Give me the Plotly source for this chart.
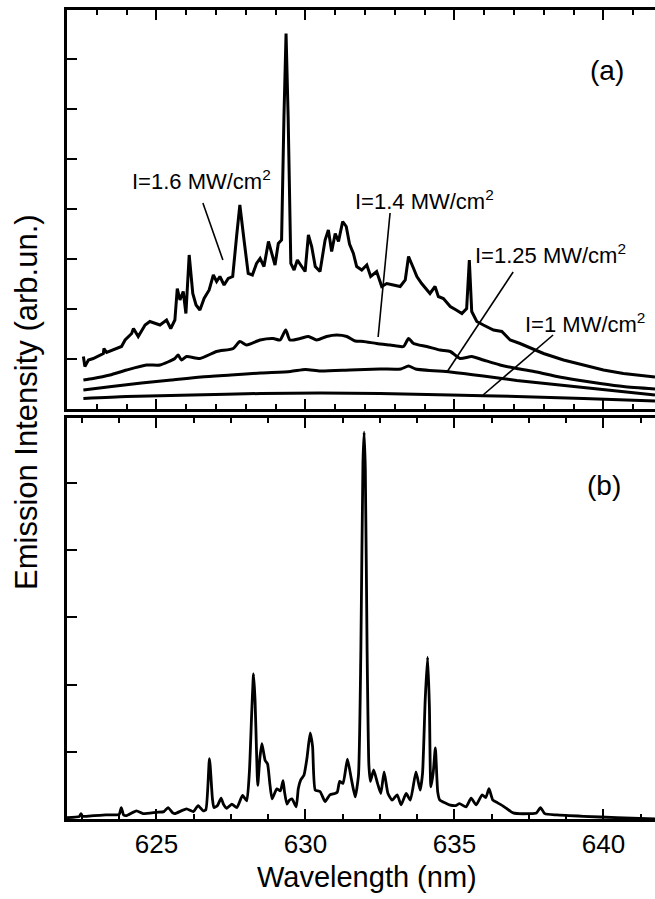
import plotly.graph_objects as go

# ---------------- data ----------------
# Panel (a): emission spectra at four pump intensities
wl_16 = [622.55, 622.60, 622.72, 622.88, 623.22, 623.24, 623.33, 623.83, 623.95, 624.17, 624.23, 624.39,
         624.62, 624.78, 625.12, 625.34, 625.48, 625.62, 625.70, 625.79, 625.90, 625.99, 626.10, 626.22,
         626.33, 626.46, 626.60, 626.77, 626.91, 627.02, 627.13, 627.27, 627.41, 627.56, 627.69, 627.80,
         627.94, 628.08, 628.22, 628.36, 628.48, 628.61, 628.76, 628.87, 628.98, 629.09, 629.20, 629.28,
         629.35, 629.42, 629.51, 629.62, 629.73, 629.84, 629.99, 630.10, 630.21, 630.33, 630.49, 630.66,
         630.77, 630.88, 631.00, 631.11, 631.25, 631.37, 631.48, 631.61, 631.72, 631.89, 632.06, 632.19,
         632.39, 632.56, 632.73, 632.95, 633.18, 633.35, 633.46, 633.63, 633.74, 633.90, 634.05, 634.18,
         634.35, 634.46, 634.63, 634.86, 635.06, 635.25, 635.41, 635.50, 635.58, 635.75, 635.97, 636.31,
         636.59, 636.87, 637.20, 637.60, 637.99, 638.66, 639.33, 640.00, 640.67, 641.73]
int_16 = [1.05, 0.85, 0.98, 1.01, 1.11, 1.21, 1.13, 1.25, 1.38, 1.51, 1.61, 1.45,
          1.68, 1.75, 1.68, 1.78, 1.61, 1.78, 2.41, 2.18, 2.35, 1.91, 3.08, 2.31,
          2.08, 1.98, 2.21, 2.38, 2.68, 2.55, 2.65, 2.48, 2.61, 2.65, 3.45, 4.08,
          3.38, 2.71, 2.68, 2.91, 3.01, 2.85, 3.35, 3.11, 2.88, 3.31, 3.38, 5.85,
          7.51, 5.85, 2.91, 2.78, 2.98, 2.88, 2.75, 3.48, 3.25, 2.85, 2.75, 3.38,
          3.58, 3.15, 3.51, 3.35, 3.75, 3.65, 3.30, 3.11, 2.85, 2.78, 2.88, 2.65,
          2.75, 2.45, 2.51, 2.48, 2.45, 2.58, 3.05, 2.81, 2.65, 2.51, 2.41, 2.31,
          2.45, 2.25, 2.21, 2.05, 1.98, 1.91, 2.01, 2.98, 1.95, 1.75, 1.68, 1.58,
          1.55, 1.38, 1.31, 1.21, 1.11, 0.98, 0.88, 0.78, 0.71, 0.64]

wl_14 = [622.55, 622.88, 623.44, 624.00, 624.67, 625.12, 625.62, 625.73, 625.84, 626.01, 626.46, 627.02,
         627.58, 627.80, 628.03, 628.48, 628.92, 629.15, 629.34, 629.48, 629.82, 630.10, 630.38, 630.71,
         631.05, 631.39, 631.67, 631.95, 632.39, 632.84, 633.29, 633.46, 633.63, 634.07, 634.52, 634.86,
         635.19, 635.58, 635.97, 636.53, 637.09, 637.76, 638.44, 639.11, 639.89, 640.67, 641.73]
int_14 = [0.58, 0.61, 0.68, 0.78, 0.88, 0.88, 1.01, 1.08, 0.98, 1.05, 1.01, 1.15,
          1.21, 1.35, 1.28, 1.38, 1.41, 1.38, 1.58, 1.38, 1.41, 1.45, 1.38, 1.45,
          1.48, 1.45, 1.36, 1.35, 1.31, 1.28, 1.25, 1.41, 1.31, 1.25, 1.18, 1.15,
          1.01, 1.05, 0.98, 0.88, 0.81, 0.74, 0.65, 0.58, 0.51, 0.45, 0.40]

wl_125 = [622.55, 623.50, 624.50, 625.50, 626.50, 627.50, 628.50, 629.50, 630.00, 630.50, 631.50, 632.50,
          633.20, 633.46, 633.70, 634.86, 635.97, 637.09, 638.21, 639.33, 640.45, 641.73]
int_125 = [0.38, 0.45, 0.52, 0.58, 0.64, 0.68, 0.72, 0.75, 0.79, 0.76, 0.78, 0.80,
           0.80, 0.86, 0.80, 0.74, 0.66, 0.57, 0.50, 0.43, 0.36, 0.28]

wl_10 = [622.55, 624.00, 626.20, 628.50, 630.50, 632.50, 634.86, 637.09, 639.33, 641.73]
int_10 = [0.21, 0.25, 0.28, 0.31, 0.32, 0.31, 0.28, 0.25, 0.21, 0.16]

# Panel (b): emission spectrum
wl_b = [622.00, 622.42, 622.47, 622.52, 622.90, 623.30, 623.75, 623.82, 623.90, 624.00, 624.33, 624.55,
        625.00, 625.25, 625.39, 625.55, 625.62, 626.01, 626.24, 626.40, 626.57, 626.66, 626.78, 626.88,
        626.93, 627.05, 627.17, 627.25, 627.36, 627.53, 627.70, 627.89, 628.03, 628.12, 628.20, 628.26,
        628.31, 628.36, 628.40, 628.47, 628.54, 628.65, 628.73, 628.80, 628.88, 629.04, 629.16, 629.25,
        629.30, 629.38, 629.46, 629.55, 629.69, 629.76, 629.84, 629.95, 630.05, 630.16, 630.24, 630.33,
        630.49, 630.66, 630.82, 630.99, 631.07, 631.15, 631.26, 631.41, 631.54, 631.67, 631.78, 631.86,
        631.93, 631.97, 632.01, 632.07, 632.13, 632.18, 632.29, 632.42, 632.53, 632.64, 632.77, 632.91,
        633.08, 633.21, 633.38, 633.52, 633.71, 633.85, 633.93, 634.02, 634.10, 634.16, 634.21, 634.29,
        634.36, 634.44, 634.51, 634.73, 634.83, 635.05, 635.17, 635.39, 635.56, 635.73, 635.93, 636.05,
        636.16, 636.29, 636.45, 636.57, 636.74, 636.97, 637.53, 637.75, 637.89, 638.03, 638.43, 639.33,
        640.45, 641.73]
int_b = [0.02, 0.04, 0.08, 0.04, 0.05, 0.06, 0.07, 0.17, 0.06, 0.05, 0.12, 0.08,
         0.10, 0.11, 0.17, 0.09, 0.08, 0.15, 0.11, 0.20, 0.12, 0.14, 0.90, 0.30,
         0.17, 0.20, 0.31, 0.22, 0.16, 0.22, 0.17, 0.35, 0.27, 0.70, 1.60, 2.16,
         1.77, 1.00, 0.50, 0.90, 1.12, 0.87, 0.82, 0.55, 0.30, 0.45, 0.42, 0.57,
         0.40, 0.22, 0.28, 0.30, 0.18, 0.45, 0.58, 0.65, 0.90, 1.28, 1.08, 0.43,
         0.41, 0.26, 0.36, 0.38, 0.40, 0.56, 0.53, 0.89, 0.60, 0.33, 0.65, 2.50,
         5.30, 5.76, 5.20, 2.50, 0.80, 0.56, 0.73, 0.53, 0.38, 0.70, 0.38, 0.28,
         0.36, 0.21, 0.38, 0.28, 0.70, 0.43, 0.68, 1.78, 2.41, 1.68, 0.48, 0.70,
         1.06, 0.40, 0.28, 0.23, 0.21, 0.20, 0.23, 0.18, 0.31, 0.21, 0.36, 0.32,
         0.45, 0.28, 0.24, 0.21, 0.16, 0.09, 0.08, 0.09, 0.17, 0.08, 0.06, 0.04,
         0.02, 0.00]

x_tick_vals = [625, 630, 635, 640]
x_tick_text = ["625", "630", "635", "640"]

labels_a = ["I=1.6 MW/cm<sup>2</sup>", "I=1.4 MW/cm<sup>2</sup>",
            "I=1.25 MW/cm<sup>2</sup>", "I=1 MW/cm<sup>2</sup>"]

# ---------------- figure ----------------
FONT = "Liberation Sans, Arial, Helvetica, sans-serif"
W, H = 655, 899
X_RANGE = [622.0, 641.73]
YA_RANGE = [0, 7.98]
YB_RANGE = [0, 5.97]

fig = go.Figure()
series_a = [(wl_16, int_16, "linear"), (wl_14, int_14, "spline"),
            (wl_125, int_125, "spline"), (wl_10, int_10, "spline")]
for wl, inten, shp in series_a:
    fig.add_trace(go.Scatter(x=wl, y=inten, mode="lines",
                             line=dict(color="black", width=3, shape=shp, smoothing=0.6),
                             xaxis="x2", yaxis="y2", showlegend=False, hoverinfo="skip"))
fig.add_trace(go.Scatter(x=wl_b, y=int_b, mode="lines",
                         line=dict(color="black", width=2.8, shape="spline", smoothing=0.5),
                         xaxis="x", yaxis="y", showlegend=False, hoverinfo="skip"))

xdom = [67 / W, 1.0]
dom_a = [1 - 409 / H, 1 - 10 / H]
dom_b = [1 - 819 / H, 1 - 418 / H]

common_x = dict(range=X_RANGE, showgrid=False, zeroline=False, showline=True, linecolor="black",
                linewidth=2.5, mirror="ticks", ticks="inside", ticklen=10, tickwidth=2,
                tickcolor="black", tickmode="array", tickvals=x_tick_vals)
common_y = dict(showgrid=False, zeroline=False, showline=True, linecolor="black", linewidth=2.5,
                mirror=False, ticks="inside", ticklen=10, tickwidth=2, tickcolor="black",
                showticklabels=False, dtick=1, tick0=0)

fig.update_layout(
    width=W, height=H, margin=dict(l=0, r=0, t=0, b=0),
    paper_bgcolor="white", plot_bgcolor="white",
    font=dict(family=FONT, color="black"),
    xaxis=dict(domain=xdom, anchor="y", ticktext=x_tick_text, showticklabels=True,
               tickfont=dict(size=26, family=FONT, color="black"),
               minor=dict(dtick=1.25, tick0=0, ticks="inside", ticklen=5, tickwidth=2,
                          tickcolor="black"),
               **common_x),
    xaxis2=dict(domain=xdom, anchor="y2", matches="x", showticklabels=False,
                minor=dict(dtick=1, tick0=0, ticks="inside", ticklen=5, tickwidth=2,
                           tickcolor="black"),
                **common_x),
    yaxis=dict(domain=dom_b, anchor="x", range=YB_RANGE, **common_y),
    yaxis2=dict(domain=dom_a, anchor="x2", range=YA_RANGE, **common_y),
    yaxis3=dict(overlaying="y2", anchor="x2", side="right", range=YA_RANGE, showgrid=False,
                zeroline=False, showline=False, ticks="inside", ticklen=4, tickwidth=2,
                tickcolor="black", showticklabels=False, dtick=1, tick0=0),
    yaxis4=dict(overlaying="y", anchor="x", side="right", range=YB_RANGE, showgrid=False,
                zeroline=False, showline=False, ticks="inside", ticklen=4, tickwidth=2,
                tickcolor="black", showticklabels=False, tickmode="array", tickvals=[2, 4]),
)

# label positions (data coordinates of panel a) and leader lines
label_pos = [(626.50, 4.58), (634.01, 4.18), (638.24, 3.10), (639.38, 1.72)]
leaders = [((626.56, 4.12), (627.23, 2.98)),
           ((632.84, 3.92), (632.44, 1.44)),
           ((636.97, 2.74), (634.75, 0.74)),
           ((638.31, 1.48), (635.96, 0.28))]

anns = []
for txt, (lx, ly) in zip(labels_a, label_pos):
    anns.append(dict(x=lx, y=ly, xref="x2", yref="y2", text=txt, showarrow=False,
                     font=dict(size=22, family=FONT, color="black"),
                     xanchor="center", yanchor="middle"))
anns.append(dict(x=640.12, y=6.78, xref="x2", yref="y2", text="(a)", showarrow=False,
                 font=dict(size=28, family=FONT, color="black"), xanchor="center", yanchor="middle"))
anns.append(dict(x=640.02, y=4.96, xref="x", yref="y", text="(b)", showarrow=False,
                 font=dict(size=28, family=FONT, color="black"), xanchor="center", yanchor="middle"))
anns.append(dict(x=0.5 * (xdom[0] + xdom[1]) + 6 / W, y=1 - 877 / H, xref="paper", yref="paper",
                 text="Wavelength (nm)", showarrow=False,
                 font=dict(size=29, family=FONT, color="black"), xanchor="center", yanchor="middle"))
anns.append(dict(x=26 / W, y=1 - 402 / H, xref="paper", yref="paper",
                 text="Emission Intensity (arb.un.)", showarrow=False, textangle=-90,
                 font=dict(size=31, family=FONT, color="black"), xanchor="center", yanchor="middle"))

shapes = []
for (x0, y0), (x1, y1) in leaders:
    shapes.append(dict(type="line", x0=x0, y0=y0, x1=x1, y1=y1, xref="x2", yref="y2",
                       line=dict(color="black", width=1.6)))

fig.update_layout(annotations=anns, shapes=shapes)
fig.write_html("out.html")
